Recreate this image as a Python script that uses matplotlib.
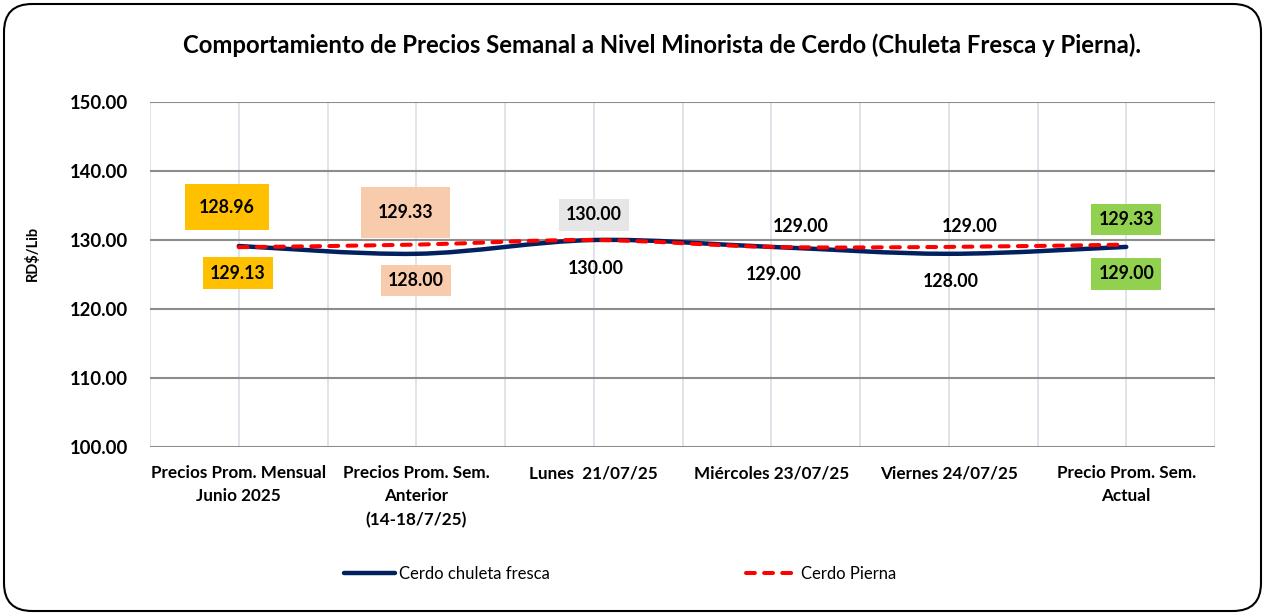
import matplotlib
matplotlib.use('Agg')
import matplotlib.pyplot as plt
from matplotlib.path import Path
from matplotlib.patches import PathPatch, FancyBboxPatch
from matplotlib.lines import Line2D
from matplotlib.transforms import IdentityTransform

plt.rcParams['font.family'] = ['Lato', 'DejaVu Sans']

# Data
categories = ['Precios Prom. Mensual\nJunio 2025',
              'Precios Prom. Sem.\nAnterior\n(14-18/7/25)',
              'Lunes  21/07/25',
              'Miércoles 23/07/25',
              'Viernes 24/07/25',
              'Precio Prom. Sem.\nActual']
chuleta = [129.13, 128.00, 130.00, 129.00, 128.00, 129.00]
pierna = [128.96, 129.33, 130.00, 129.00, 129.00, 129.33]
series_names = ['Cerdo chuleta fresca', 'Cerdo Pierna']
y_ticks = [100, 110, 120, 130, 140, 150]

# label styling (offsets in pixels, box colours)
pierna_off = [(-12, 40), (-11, 32), (0, 25), (29, 20), (21, 20), (0, 25)]
chuleta_off = [(-1, -27), (0, -27), (2, -28), (2, -28), (2, -28), (0, -27)]
pierna_box = ['#FFC000', '#F8CBAD', '#E7E6E6', None, None, '#92D050']
pierna_pad = [0.8, 0.95, 0.4, 0.4, 0.4, 0.4]
chuleta_box = ['#FFC000', '#F8CBAD', None, None, None, '#92D050']

NAVY = '#002060'
RED = '#FF0000'


def smooth_path(xs, ys):
    """Excel-like smoothed line as cubic bezier segments."""
    pts = list(zip(xs, ys))
    n = len(pts)
    verts = [pts[0]]
    codes = [Path.MOVETO]
    for i in range(n - 1):
        p0 = pts[max(i - 1, 0)]
        p1 = pts[i]
        p2 = pts[i + 1]
        p3 = pts[min(i + 2, n - 1)]
        c1 = (p1[0] + (p2[0] - p0[0]) / 6, p1[1] + (p2[1] - p0[1]) / 6)
        c2 = (p2[0] - (p3[0] - p1[0]) / 6, p2[1] - (p3[1] - p1[1]) / 6)
        verts += [c1, c2, p2]
        codes += [Path.CURVE4] * 3
    return Path(verts, codes)


fig = plt.figure(figsize=(12.65, 6.15), dpi=100)
ax = fig.add_axes([150 / 1265, 1 - 447 / 615, 1065 / 1265, 345 / 615])

x = list(range(len(categories)))

ax.add_patch(PathPatch(smooth_path(x, chuleta), fill=False, edgecolor=NAVY,
                       lw=3.2, capstyle='round', zorder=3))
ax.add_patch(PathPatch(smooth_path(x, pierna), fill=False, edgecolor=RED,
                       lw=2.9, linestyle=(0, (2.2, 2.3)), capstyle='round', zorder=4))

for i in x:
    bc = pierna_box[i]
    bbox = dict(boxstyle=f'square,pad={pierna_pad[i]}', fc=bc, ec='none') if bc else None
    ax.annotate(f'{pierna[i]:.2f}', (i, pierna[i]), xytext=pierna_off[i],
                textcoords='offset pixels', ha='center', va='center',
                fontsize=12.8, fontweight='bold', bbox=bbox, zorder=5)
    bc = chuleta_box[i]
    bbox = dict(boxstyle='square,pad=0.4', fc=bc, ec='none') if bc else None
    ax.annotate(f'{chuleta[i]:.2f}', (i, chuleta[i]), xytext=chuleta_off[i],
                textcoords='offset pixels', ha='center', va='center',
                fontsize=12.8, fontweight='bold', bbox=bbox, zorder=5)

ax.set_xlim(-0.5, len(categories) - 0.5)
ax.set_ylim(y_ticks[0], y_ticks[-1])
ax.set_yticks(y_ticks)
ax.set_yticklabels([f'{v:.2f}' for v in y_ticks], fontsize=13.3, fontweight='bold')
ax.set_xticks(x)
ax.set_xticklabels(categories, fontsize=12.3, fontweight='bold', linespacing=1.55)
ax.set_xticks([i - 0.5 for i in range(len(categories) + 1)], minor=True)
ax.tick_params(axis='both', which='both', length=0)
ax.tick_params(axis='x', pad=13)
ax.tick_params(axis='y', pad=16)

ax.grid(axis='x', which='both', color='#D9DEE6', lw=1.2, zorder=0)
ax.grid(axis='y', which='major', color='#8C8C8C', lw=1.5, zorder=1)
for s in ax.spines.values():
    s.set_visible(False)
ax.set_axisbelow(True)

ax.set_ylabel('RD$/Lib', fontsize=10.5, fontweight='bold')
ax.yaxis.set_label_coords(-0.103, 0.56)

fig.text(662 / 1265, 1 - 45 / 615,
         'Comportamiento de Precios Semanal a Nivel Minorista de Cerdo (Chuleta Fresca y Pierna).',
         ha='center', va='center', fontsize=17.2, fontweight='bold')

handles = [Line2D([], [], color=NAVY, lw=3.2, solid_capstyle='round'),
           Line2D([], [], color=RED, lw=2.9, linestyle=(0, (2.2, 2.3)), dash_capstyle='round')]
fig.legend(handles, series_names, loc='center', bbox_to_anchor=(620 / 1265, 1 - 574 / 615),
           ncol=2, frameon=False, fontsize=12, handlelength=3.05, handletextpad=0.24,
           columnspacing=11.8)

# rounded outer border
border = FancyBboxPatch((4, 4), 1257, 607, boxstyle='round,pad=0,rounding_size=28',
                        transform=IdentityTransform(), fill=False, ec='black', lw=1.5)
fig.add_artist(border)

fig.savefig('out.png', dpi=100)
